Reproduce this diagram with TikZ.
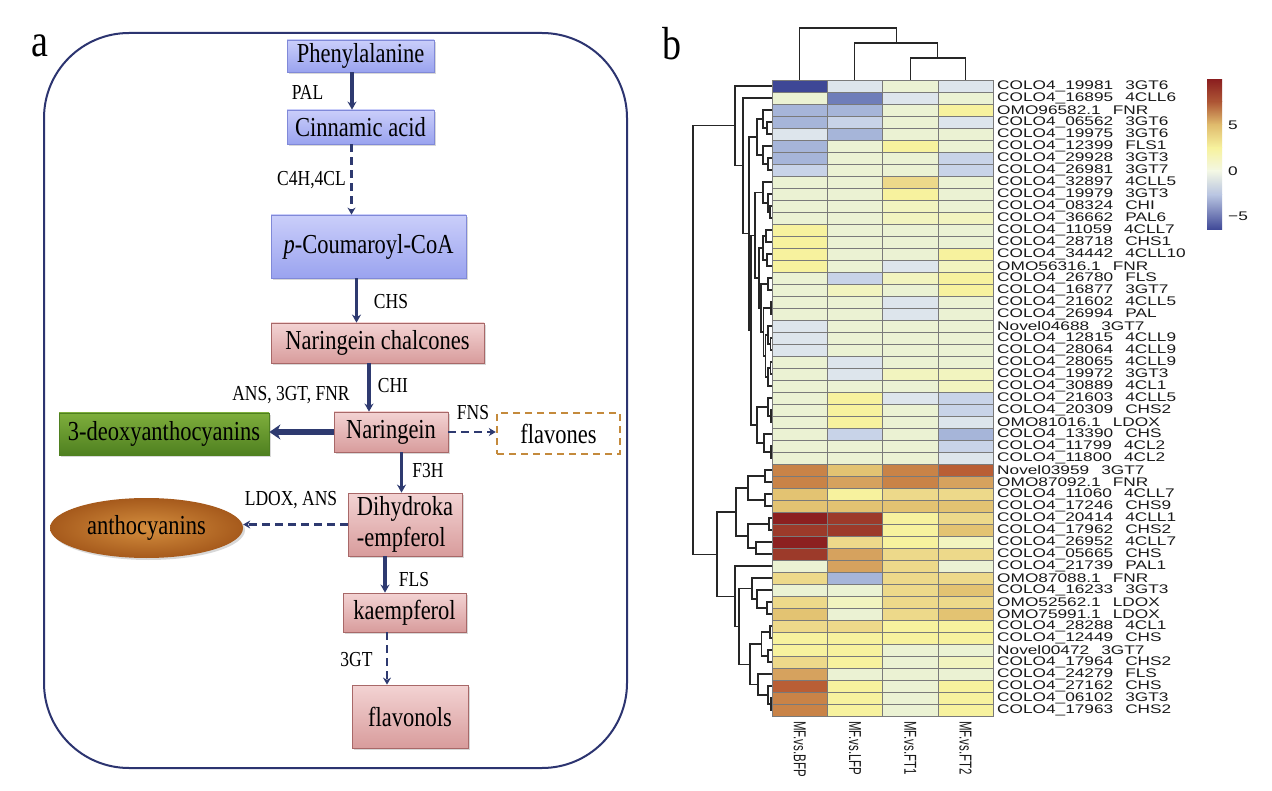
\documentclass[tikz,border=0pt]{standalone}
\usepackage{fontspec}
\setmainfont{Liberation Serif}
\newfontfamily\arialf{Liberation Sans}
\usepackage{graphicx}
\usetikzlibrary{arrows.meta}
\usetikzlibrary{shapes.geometric}
\usetikzlibrary{shadows}
\usetikzlibrary{calc}

% heatmap colours
\definecolor{hmA}{HTML}{3E4796}
\definecolor{hmB}{HTML}{6F7DB9}
\definecolor{hmC}{HTML}{A6B5D9}
\definecolor{hmD}{HTML}{C8D3E8}
\definecolor{hmE}{HTML}{DDE5EC}
\definecolor{hmN}{HTML}{EBF2D3}
\definecolor{hmP}{HTML}{F2F4BF}
\definecolor{hmY}{HTML}{F7F29E}
\definecolor{hmG}{HTML}{EDD98A}
\definecolor{hmH}{HTML}{E3C372}
\definecolor{hmL}{HTML}{D6A25E}
\definecolor{hmO}{HTML}{C98347}
\definecolor{hmR}{HTML}{B95E35}
\definecolor{hmS}{HTML}{9C3A2A}
\definecolor{hmK}{HTML}{8C2020}
\definecolor{gridc}{HTML}{7A7A7A}
% pathway colours
\definecolor{arrc}{HTML}{2E3A70}
\definecolor{framec}{HTML}{2C3470}
\definecolor{bluetop}{HTML}{CACEFA}
\definecolor{bluebot}{HTML}{9AA3EF}
\definecolor{bluedr}{HTML}{8089D8}
\definecolor{pinktop}{HTML}{F3D3D3}
\definecolor{pinkbot}{HTML}{D89C9C}
\definecolor{pinkdr}{HTML}{A86868}
\definecolor{greentop}{HTML}{7EAE3C}
\definecolor{greenbot}{HTML}{4F8020}
\definecolor{flavc}{HTML}{C48A3C}
\definecolor{anthin}{HTML}{D48E3E}
\definecolor{anthout}{HTML}{A65A1C}

\newcommand{\boxfont}{\fontsize{22.5}{31}\selectfont}
\newcommand{\enzfont}{\fontsize{17.5}{20}\selectfont}
\newcommand{\tall}[1]{\scalebox{1}[1.22]{#1}}
\newcommand{\wide}[1]{\scalebox{1.38}[1]{#1}}
\newcommand{\gap}{\hspace{0.7em}}

% dendrogram merges: name, child, child, height
\newcommand{\hmerge}[4]{%
  \path let \p1=(#2), \p2=(#3) in coordinate (#1) at (#4pt,{0.5*\y1+0.5*\y2});
  \draw[dendro] (#2) -| (#1) |- (#3);}
\newcommand{\vmerge}[4]{%
  \path let \p1=(#2), \p2=(#3) in coordinate (#1) at ({0.5*\x1+0.5*\x2},-#4pt);
  \draw[dendro] (#2) |- (#1) -| (#3);}

\begin{document}
\begin{tikzpicture}[x=1pt, y=-1pt,
  bluebox/.style={draw=bluedr, line width=0.8pt, top color=bluetop, bottom color=bluebot, inner sep=0pt, font=\boxfont,
    drop shadow={opacity=0.3, shadow xshift=2pt, shadow yshift=-2pt}},
  pinkbox/.style={draw=pinkdr, line width=0.8pt, top color=pinktop, bottom color=pinkbot, inner sep=0pt, font=\boxfont,
    drop shadow={opacity=0.3, shadow xshift=2pt, shadow yshift=-2pt}},
  greenbox/.style={draw=greenbot, line width=0.8pt, top color=greentop, bottom color=greenbot, inner sep=0pt, font=\boxfont,
    drop shadow={opacity=0.3, shadow xshift=2pt, shadow yshift=-2pt}},
  enz/.style={font=\enzfont, inner sep=0pt},
  flow/.style={draw=arrc, line width=3.3pt, -{Stealth[length=8pt,width=9pt]}},
  dflow/.style={draw=arrc, line width=2.4pt, dash pattern=on 8pt off 5pt, -{Stealth[length=7pt,width=8pt]}},
  bigflow/.style={draw=arrc, line width=6.5pt, -{Stealth[length=11pt,width=15pt]}},
  cell/.style={draw=gridc, line width=0.8pt},
  rowlab/.style={anchor=west, inner sep=0pt, font=\arialf\fontsize{12.5}{13}\selectfont, text=black!90},
  collab/.style={anchor=west, rotate=-90, inner sep=0pt, font=\arialf\fontsize{11.5}{12}\selectfont, text=black!90},
  dendro/.style={draw=black!85, line width=1.1pt}]
\useasboundingbox (0,0) rectangle (1272,791);
\fill[white] (0,0) rectangle (1272,791);

% ---- panel a
\node[font=\fontsize{38}{40}\selectfont, inner sep=0pt] (pa) at (40,46) {\tall{a}};
\draw[draw=framec, line width=2pt, rounded corners=85pt] (44,33) rectangle (627,768);

\node[bluebox, minimum width=147pt, minimum height=32pt] (phen) at (360.5,56) {\tall{Phenylalanine}};
\node[bluebox, minimum width=147pt, minimum height=34pt] (cinn) at (360.5,127) {\tall{Cinnamic acid}};
\node[bluebox, minimum width=195pt, minimum height=63pt] (pcoum) at (368.5,246.5) {\tall{\textit{p}-Coumaroyl-CoA}};
\node[pinkbox, minimum width=213pt, minimum height=40pt] (chal) at (377.5,343) {\tall{Naringein chalcones}};
\node[pinkbox, minimum width=114pt, minimum height=40pt] (nar) at (391,432) {\tall{Naringein}};
\node[greenbox, minimum width=210pt, minimum height=42pt] (deoxy) at (164,434) {\tall{3-deoxyanthocyanins}};
\node[draw=flavc, line width=2.4pt, dash pattern=on 7pt off 5pt, minimum width=123pt, minimum height=41pt,
  inner sep=0pt, font=\boxfont] (flav) at (558.5,433.5) {\tall{flavones}};
\node[pinkbox, minimum width=114pt, minimum height=63pt, align=left] (dihy) at (405,524.5) {\tall{Dihydroka}\\\tall{-empferol}};
\node[ellipse, minimum width=193pt, minimum height=60pt, inner sep=0pt, inner color=anthin, outer color=anthout,
  font=\boxfont, drop shadow={opacity=0.3, shadow xshift=2pt, shadow yshift=-2pt}] (antho) at (146.5,528) {\tall{anthocyanins}};
\node[pinkbox, minimum width=123pt, minimum height=39pt] (kaem) at (404.5,612.5) {\tall{kaempferol}};
\node[pinkbox, minimum width=116pt, minimum height=63pt] (flavo) at (410,716.5) {\tall{flavonols}};

\node[enz] (lpal) at (307.5,92) {\tall{PAL}};
\node[enz] (lc4h) at (311.5,180) {\tall{C4H,4CL}};
\node[enz] (lchs) at (391,302) {\tall{CHS}};
\node[enz] (lchi) at (393,386) {\tall{CHI}};
\node[enz] (lans) at (291,395) {\tall{ANS, 3GT, FNR}};
\node[enz] (lfns) at (473,413) {\tall{FNS}};
\node[enz] (lf3h) at (428,471) {\tall{F3H}};
\node[enz] (lldox) at (291,500) {\tall{LDOX, ANS}};
\node[enz] (lfls) at (414,580) {\tall{FLS}};
\node[enz] (l3gt) at (356.5,660) {\tall{3GT}};

\draw[flow] ([xshift=-8.5pt]phen.south) -- ([xshift=-8.5pt]cinn.north);
\draw[dflow] ([xshift=-9pt]cinn.south) -- ([xshift=-17pt]pcoum.north);
\draw[flow] ([xshift=-12pt]pcoum.south) -- ([xshift=-21pt]chal.north);
\draw[flow] ([xshift=-8.5pt]chal.south) -- ([xshift=-22pt]nar.north);
\draw[bigflow] (nar.west) -- (nar.west -| deoxy.east);
\draw[dflow] (nar.east) -- (nar.east -| flav.west);
\draw[flow] ([xshift=10.5pt]nar.south) -- ([xshift=-3.5pt]dihy.north);
\draw[dflow] (dihy.west) -- (dihy.west -| antho.east);
\draw[flow] ([xshift=-20pt]dihy.south) -- ([xshift=-19.5pt]kaem.north);
\draw[dflow] ([xshift=-17.5pt]kaem.south) -- ([xshift=-23pt]flavo.north);

% ---- panel b
\node[font=\fontsize{38}{40}\selectfont, inner sep=0pt] (pb) at (672,44) {\tall{b}};

\foreach \ca/\cb/\cc/\cd/\lab [count=\i] in {
  A/E/N/E/{COLO4\_19981\gap 3GT6}, N/B/E/N/{COLO4\_16895\gap 4CLL6}, C/C/N/Y/{OMO96582.1\gap FNR},
  C/D/N/E/{COLO4\_06562\gap 3GT6}, E/C/N/N/{COLO4\_19975\gap 3GT6}, C/N/Y/N/{COLO4\_12399\gap FLS1},
  C/N/N/D/{COLO4\_29928\gap 3GT3}, D/N/N/D/{COLO4\_26981\gap 3GT7}, N/N/G/N/{COLO4\_32897\gap 4CLL5},
  N/N/Y/N/{COLO4\_19979\gap 3GT3}, N/N/P/N/{COLO4\_08324\gap CHI}, N/N/P/P/{COLO4\_36662\gap PAL6},
  Y/N/N/N/{COLO4\_11059\gap 4CLL7}, Y/N/N/N/{COLO4\_28718\gap CHS1}, Y/N/N/Y/{COLO4\_34442\gap 4CLL10},
  Y/N/E/P/{OMO56316.1\gap FNR}, N/D/P/Y/{COLO4\_26780\gap FLS}, N/P/N/Y/{COLO4\_16877\gap 3GT7},
  N/N/E/N/{COLO4\_21602\gap 4CLL5}, N/N/E/N/{COLO4\_26994\gap PAL}, E/N/N/N/{Novel04688\gap 3GT7},
  E/N/N/N/{COLO4\_12815\gap 4CLL9}, E/N/N/N/{COLO4\_28064\gap 4CLL9}, N/E/N/N/{COLO4\_28065\gap 4CLL9},
  N/E/P/P/{COLO4\_19972\gap 3GT3}, N/N/N/P/{COLO4\_30889\gap 4CL1}, N/Y/E/D/{COLO4\_21603\gap 4CLL5},
  N/Y/N/D/{COLO4\_20309\gap CHS2}, N/Y/N/E/{OMO81016.1\gap LDOX}, N/D/N/C/{COLO4\_13390\gap CHS},
  N/N/N/D/{COLO4\_11799\gap 4CL2}, N/N/N/E/{COLO4\_11800\gap 4CL2}, O/H/O/R/{Novel03959\gap 3GT7},
  O/L/O/L/{OMO87092.1\gap FNR}, H/Y/G/G/{COLO4\_11060\gap 4CLL7}, H/H/H/H/{COLO4\_17246\gap CHS9},
  K/S/Y/G/{COLO4\_20414\gap 4CLL1}, S/S/Y/H/{COLO4\_17962\gap CHS2}, K/G/Y/P/{COLO4\_26952\gap 4CLL7},
  S/L/G/G/{COLO4\_05665\gap CHS}, N/L/G/N/{COLO4\_21739\gap PAL1}, G/C/G/G/{OMO87088.1\gap FNR},
  N/N/G/H/{COLO4\_16233\gap 3GT3}, G/P/G/G/{OMO52562.1\gap LDOX}, H/N/G/H/{OMO75991.1\gap LDOX},
  G/G/Y/Y/{COLO4\_28288\gap 4CL1}, Y/Y/Y/Y/{COLO4\_12449\gap CHS}, Y/Y/N/N/{Novel00472\gap 3GT7},
  G/Y/N/P/{COLO4\_17964\gap CHS2}, L/N/N/N/{COLO4\_24279\gap FLS}, R/Y/N/Y/{COLO4\_27162\gap CHS},
  O/Y/N/Y/{COLO4\_06102\gap 3GT3}, O/Y/N/Y/{COLO4\_17963\gap CHS2}} {
  \foreach \cl [count=\j] in {\ca,\cb,\cc,\cd}
    \path[cell, fill=hm\cl] ({772+55.3*(\j-1)},{80+12*(\i-1)}) rectangle ++(55.3,12);
  \node[rowlab] (lab\i) at (997,{86+12*(\i-1)}) {\wide{\lab}};
  \coordinate (r\i) at (772,{86+12*(\i-1)});
}

% column labels and top tree
\foreach \cn [count=\j] in {MF.vs.BFP, MF.vs.LFP, MF.vs.FT1, MF.vs.FT2} {
  \node[collab] (col\j) at ({799.6+55.3*(\j-1)},721) {\scalebox{1}[1.5]{\cn}};
  \coordinate (c\j) at ({799.6+55.3*(\j-1)},80);
}
\vmerge{t34}{c3}{c4}{58}
\vmerge{t24}{c2}{t34}{43}
\vmerge{t14}{c1}{t24}{28}

% left tree, upper block
\hmerge{m45}{r4}{r5}{767}
\hmerge{m35}{r3}{m45}{763}
\hmerge{m78}{r7}{r8}{768}
\hmerge{m68}{r6}{m78}{763}
\hmerge{m38}{m35}{m68}{757}
\hmerge{m1112}{r11}{r12}{770}
\hmerge{m1012}{r10}{m1112}{768}
\hmerge{m912}{r9}{m1012}{763}
\hmerge{m1314}{r13}{r14}{766}
\hmerge{m1516}{r15}{r16}{767}
\hmerge{m1316}{m1314}{m1516}{763}
\hmerge{m1718}{r17}{r18}{768}
\hmerge{m1920}{r19}{r20}{771}
\hmerge{m2223}{r22}{r23}{770.5}
\hmerge{m2123}{r21}{m2223}{768}
\hmerge{m2425}{r24}{r25}{770.5}
\hmerge{m2426}{m2425}{r26}{768}
\hmerge{m2126}{m2123}{m2426}{765.5}
\hmerge{m1926}{m1920}{m2126}{763.5}
\hmerge{m1726}{m1718}{m1926}{761}
\hmerge{m1326}{m1316}{m1726}{759}
\hmerge{m926}{m912}{m1326}{755}
\hmerge{m2829}{r28}{r29}{771}
\hmerge{m2729}{r27}{m2829}{768}
\hmerge{m3132}{r31}{r32}{771}
\hmerge{m3032}{r30}{m3132}{764}
\hmerge{m2732}{m2729}{m3032}{757}
\hmerge{m932}{m926}{m2732}{751}
\hmerge{m332}{m38}{m932}{749}
\hmerge{m232}{r2}{m332}{743}
\hmerge{m132}{r1}{m232}{735}
% left tree, lower block
\hmerge{m3334}{r33}{r34}{765}
\hmerge{m3536}{r35}{r36}{765}
\hmerge{m3336}{m3334}{m3536}{748}
\hmerge{m3738}{r37}{r38}{769}
\hmerge{m3940}{r39}{r40}{756}
\hmerge{m3740}{m3738}{m3940}{748}
\hmerge{m3340}{m3336}{m3740}{736}
\hmerge{m4445}{r44}{r45}{767}
\hmerge{m4345}{r43}{m4445}{757}
\hmerge{m4245}{r42}{m4345}{752}
\hmerge{m4647}{r46}{r47}{770}
\hmerge{m4849}{r48}{r49}{768}
\hmerge{m4649}{m4647}{m4849}{761.5}
\hmerge{m5253}{r52}{r53}{771}
\hmerge{m5153}{r51}{m5253}{768}
\hmerge{m5053}{r50}{m5153}{758}
\hmerge{m4653}{m4649}{m5053}{750}
\hmerge{m4253}{m4245}{m4653}{739}
\hmerge{m4153}{r41}{m4253}{735}
\hmerge{m3353}{m3340}{m4153}{717}
\hmerge{mall}{m132}{m3353}{693}

% colour key
\foreach \ya/\yb/\ka/\kb in {80/102/hmK/hmS!60!hmO, 102/125/hmS!60!hmO/hmH!80!hmL, 125/148/hmH!80!hmL/hmY,
  148/171/hmY/hmN!60!white, 171/195/hmN!60!white/hmC!80!white, 195/230/hmC!80!white/hmA}
  \shade[top color=\ka, bottom color=\kb] (1207,\ya) rectangle (1222,\yb);
\node[rowlab] (k5) at (1228,125) {\wide{5}};
\node[rowlab] (k0) at (1228,171) {\wide{0}};
\node[rowlab] (km5) at (1228,216) {\wide{−5}};
\end{tikzpicture}
\end{document}
